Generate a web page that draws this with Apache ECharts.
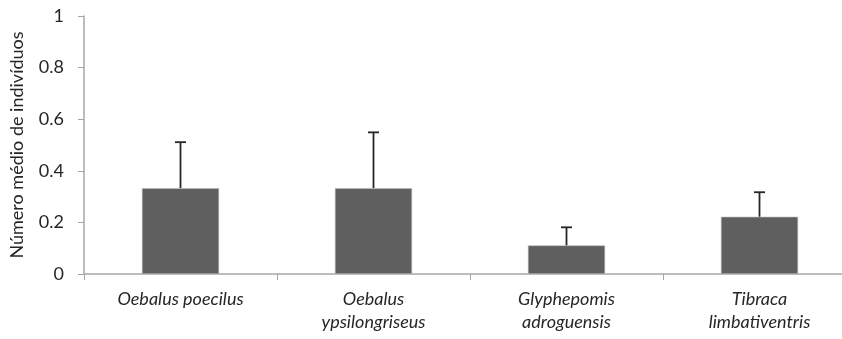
<!DOCTYPE html>
<html>
<head>
<meta charset="utf-8">
<script src="https://cdn.jsdelivr.net/npm/echarts@6/dist/echarts.min.js"></script>
<style>html,body{margin:0;padding:0;background:#fff;overflow:hidden;width:842px;height:339px}#c{width:860px;height:339px}</style>
</head>
<body>
<div id="c"></div>
<script>
var categories = ['Oebalus poecilus', 'Oebalus\nypsilongriseus', 'Glyphepomis\nadroguensis', 'Tibraca\nlimbativentris'];
var means = [0.333, 0.333, 0.111, 0.222];
var errors = [0.178, 0.216, 0.07, 0.095];
var yTicks = [0, 0.2, 0.4, 0.6, 0.8, 1];

var chart = echarts.init(document.getElementById('c'));
var font = 'Lato, "Open Sans", sans-serif';
var errData = categories.map(function (c, i) { return [i, means[i], means[i] + errors[i]]; });
chart.setOption({
  animation: false,
  grid: { left: 84, right: 4, top: 16, bottom: 65, containLabel: false },
  xAxis: {
    type: 'category',
    data: categories,
    axisLine: { lineStyle: { color: '#a6a6a6', width: 1.5 } },
    axisTick: { show: true, length: 6, lineStyle: { color: '#a6a6a6' } },
    axisLabel: { color: '#262626', fontFamily: font, fontStyle: 'italic', fontSize: 18, lineHeight: 23, margin: 14, interval: 0 }
  },
  yAxis: {
    type: 'value', min: 0, max: 1, interval: 0.2,
    name: 'Número médio de indivíduos',
    nameLocation: 'middle', nameGap: 58, nameRotate: 90,
    nameTextStyle: { color: '#262626', fontFamily: font, fontSize: 18 },
    axisLine: { show: true, lineStyle: { color: '#a6a6a6', width: 1.5 } },
    axisTick: { show: true, length: 6, lineStyle: { color: '#a6a6a6' } },
    splitLine: { show: false },
    axisLabel: {
      color: '#262626', fontFamily: font, fontSize: 18, margin: 20,
      formatter: function (v) { return yTicks.indexOf(Math.round(v * 10) / 10) >= 0 ? String(Math.round(v * 10) / 10) : ''; }
    }
  },
  series: [
    {
      type: 'bar', data: means, barWidth: '40%',
      itemStyle: { color: '#5f5f5f', borderColor: '#bfbfbf', borderWidth: 0.6 }
    },
    {
      type: 'custom', data: errData, z: 5,
      renderItem: function (params, api) {
        var x = api.value(0);
        var p0 = api.coord([x, api.value(1)]);
        var p1 = api.coord([x, api.value(2)]);
        var style = { stroke: '#262626', lineWidth: 1.8 };
        return {
          type: 'group',
          children: [
            { type: 'line', shape: { x1: p0[0], y1: p0[1], x2: p1[0], y2: p1[1] }, style: style },
            { type: 'line', shape: { x1: p1[0] - 5.5, y1: p1[1], x2: p1[0] + 5.5, y2: p1[1] }, style: style }
          ]
        };
      }
    }
  ]
});
</script>
</body>
</html>
